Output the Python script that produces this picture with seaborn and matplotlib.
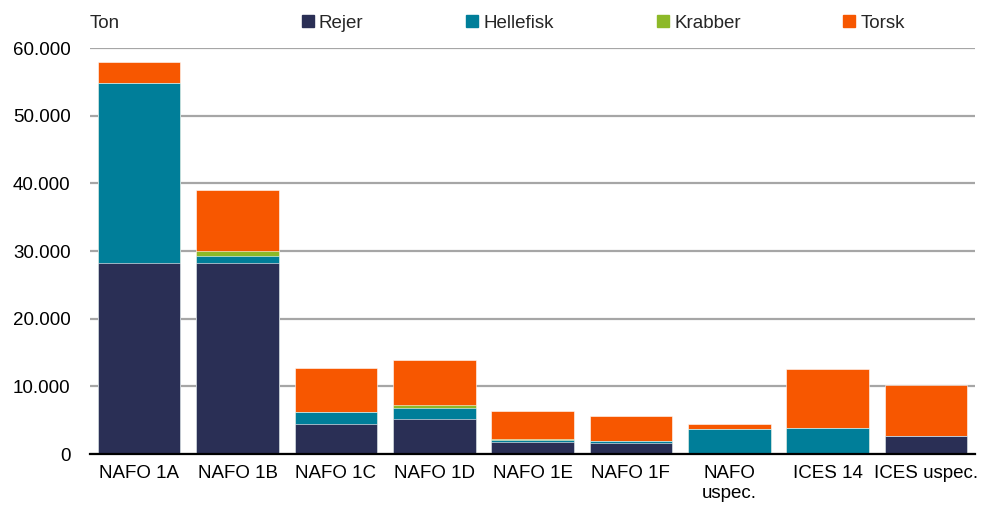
import seaborn as sns
import pandas as pd
import numpy as np
import matplotlib.pyplot as plt
import matplotlib.lines as mlines
from matplotlib.ticker import FuncFormatter

# Data (ton)
omraader = ['NAFO 1A', 'NAFO 1B', 'NAFO 1C', 'NAFO 1D', 'NAFO 1E', 'NAFO 1F',
            'NAFO\nuspec.', 'ICES 14', 'ICES uspec.']
rejer = [28300, 28200, 4500, 5200, 1800, 1650, 0, 0, 2700]
hellefisk = [26600, 1100, 1750, 1650, 300, 300, 3700, 3850, 0]
krabber = [0, 650, 0, 350, 100, 0, 0, 0, 0]
torsk = [3000, 9050, 6450, 6650, 4100, 3700, 750, 8700, 7550]

arter = ['Rejer', 'Hellefisk', 'Krabber', 'Torsk']
farver = ['#2A2F55', '#007E99', '#8DB928', '#F75700']

sns.set_style('white')
plt.rcParams['font.family'] = ['Liberation Sans', 'DejaVu Sans']

df = pd.DataFrame({'Omraade': omraader, 'Rejer': rejer, 'Hellefisk': hellefisk,
                   'Krabber': krabber, 'Torsk': torsk})
# cumulative sums so the layers can be drawn on top of each other
cum = df[arter].cumsum(axis=1)
cum['Omraade'] = df['Omraade']

fig = plt.figure(figsize=(9.89, 5.13), dpi=100)
ax = fig.add_axes([0.091, 0.115, 0.895, 0.791])

for art, farve in reversed(list(zip(arter, farver))):
    sns.barplot(data=cum, x='Omraade', y=art, color=farve, width=0.84,
                saturation=1, ax=ax, edgecolor='white', linewidth=0.4)

ax.set_ylim(0, 60000)
ax.set_xlim(-0.5, 8.5)
ax.set_yticks(np.arange(0, 60001, 10000))
ax.yaxis.set_major_formatter(FuncFormatter(lambda v, p: '{:,.0f}'.format(v).replace(',', '.')))
ax.yaxis.grid(True, color='#A6A6A6', linewidth=1.6)
ax.set_axisbelow(True)
ax.set_xlabel('')
ax.set_ylabel('')
for s in ['left', 'right', 'top']:
    ax.spines[s].set_visible(False)
ax.spines['bottom'].set_color('black')
ax.spines['bottom'].set_linewidth(1.6)
ax.tick_params(axis='both', length=0, labelsize=13.5, colors='black')
ax.tick_params(axis='x', pad=8)
ax.tick_params(axis='y', pad=14)

fig.text(0.091, 0.955, 'Ton', fontsize=13.5, va='center', ha='left')

handles = [mlines.Line2D([], [], marker='s', linestyle='none', markersize=9,
                         color=f, label=a) for a, f in zip(arter, farver)]
fig.legend(handles=handles, loc='center left', bbox_to_anchor=(0.294, 0.955),
           ncol=4, frameon=False, fontsize=13.5, handletextpad=0.1,
           columnspacing=5.3, handlelength=1.0, borderaxespad=0)

fig.savefig('out.png', dpi=100)
